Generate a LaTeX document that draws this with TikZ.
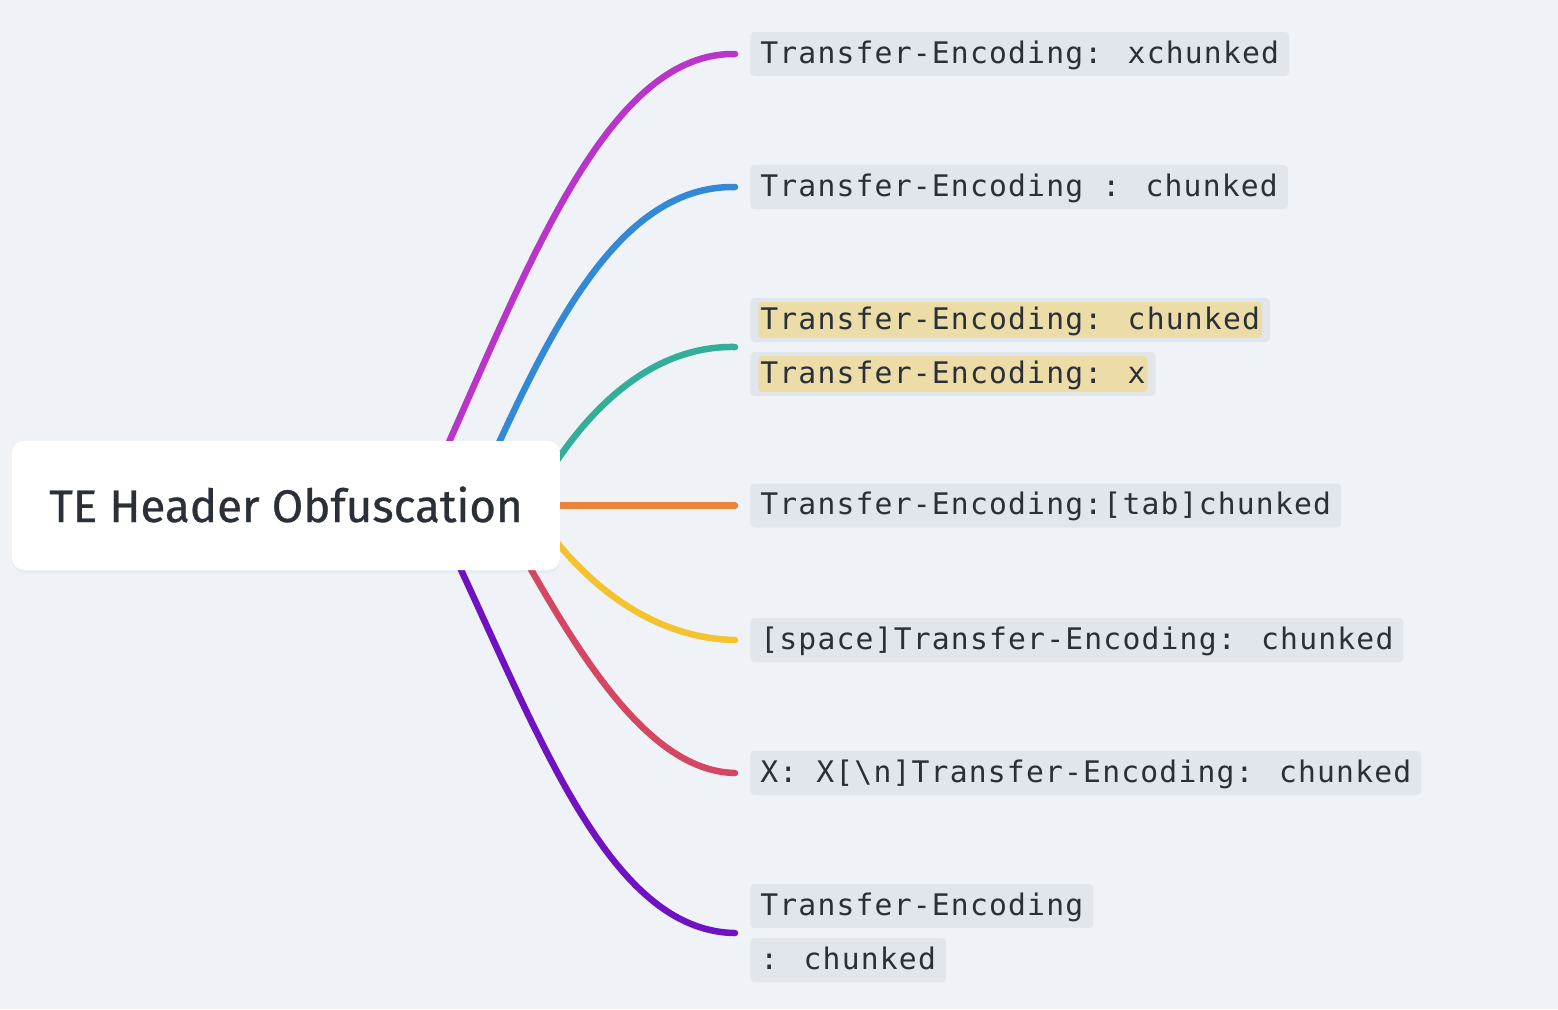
\documentclass[tikz,border=0pt]{standalone}
\usepackage{fontspec}
\setmainfont{Fira Sans}
\newfontfamily\rootfont[FakeBold=0.6]{Fira Sans}
\newfontfamily\codefont[LetterSpace=4]{DejaVu Sans Mono}
\usetikzlibrary{calc,shadows,backgrounds}

\definecolor{canvas}{HTML}{EFF3F7}
\definecolor{boxgray}{HTML}{E1E6EC}
\definecolor{markyellow}{HTML}{EBDCA8}
\definecolor{ink}{HTML}{2B3038}
\definecolor{lnmagenta}{HTML}{B935C9}
\definecolor{lnblue}{HTML}{3389D6}
\definecolor{lngreen}{HTML}{33AE98}
\definecolor{lnorange}{HTML}{E9843B}
\definecolor{lnyellow}{HTML}{F4C430}
\definecolor{lnred}{HTML}{D44661}
\definecolor{lnpurple}{HTML}{7012C2}

\tikzset{
  rootbox/.style={rectangle, rounded corners=0.24cm, fill=white,
    minimum width=10.96cm, minimum height=2.58cm, text=ink,
    text height=0.66cm, text depth=0cm,
    font=\rootfont\fontsize{26}{31}\selectfont,
    drop shadow={opacity=0.06, shadow xshift=0cm, shadow yshift=-0.06cm}},
  codebox/.style={rectangle, rounded corners=0.08cm, fill=boxgray, anchor=west,
    inner xsep=0.2cm, inner ysep=0.19cm, text height=0.434cm, text depth=0.066cm,
    text=ink, font=\codefont\fontsize{16.9}{20}\selectfont},
  marked/.style={codebox, path picture={
    \fill[markyellow] ([shift={(0.16cm,0.08cm)}]path picture bounding box.south west)
      rectangle ([shift={(-0.16cm,-0.08cm)}]path picture bounding box.north east);}},
  branch/.style={line width=0.13cm, line cap=round},
}

\begin{document}
\begin{tikzpicture}[x=0.02cm, y=-0.02cm]
  \useasboundingbox (0,0) rectangle (1558,1009);

  % root
  \node[rootbox] (root) at (286,505.5) {TE Header Obfuscation};

  % labels
  \node[codebox] (te1) at (750,54) {Transfer-Encoding: xchunked};
  \node[codebox] (te2) at (750,187) {Transfer-Encoding : chunked};
  \node[marked] (hl1) at (750,320) {Transfer-Encoding: chunked};
  \node[marked] (hl2) at (750,374) {Transfer-Encoding: x};
  \node[codebox] (te4) at (750,505.5) {Transfer-Encoding:[tab]chunked};
  \node[codebox] (te5) at (750,640) {[space]Transfer-Encoding: chunked};
  \node[codebox] (te6) at (750,773) {X: X[\textbackslash n]Transfer-Encoding: chunked};
  \node[codebox] (te7a) at (750,906) {Transfer-Encoding};
  \node[codebox] (te7b) at (750,960) {: chunked};

  \begin{scope}[on background layer]
    \fill[canvas] (0,0) rectangle (1558,1009);
    % branches
    \draw[branch, lnmagenta] ([xshift=-2.8cm]root.east) .. controls (520,290) and (600,52) .. ([xshift=-0.3cm]te1.west);
    \draw[branch, lnblue] ([xshift=-1.8cm]root.east) .. controls (540,353) and (610,185) .. ([xshift=-0.3cm]te2.west);
    \draw[branch, lngreen] ([xshift=-0.6cm]root.east) .. controls (570,429) and (640,345) .. ([xshift=-0.3cm]$(hl1.west)!0.5!(hl2.west)$);
    \draw[branch, lnorange] (root.east) -- ([xshift=-0.3cm]te4.west);
    \draw[branch, lnyellow] ([xshift=-0.6cm]root.east) .. controls (570,568) and (640,638) .. ([xshift=-0.3cm]te5.west);
    \draw[branch, lnred] ([xshift=-1.3cm]root.east) .. controls (565,631) and (640,771) .. ([xshift=-0.3cm]te6.west);
    \draw[branch, lnpurple] ([xshift=-2.6cm]root.east) .. controls (530,707) and (600,931) .. ([xshift=-0.3cm]$(te7a.west)!0.5!(te7b.west)$);
  \end{scope}
\end{tikzpicture}
\end{document}
